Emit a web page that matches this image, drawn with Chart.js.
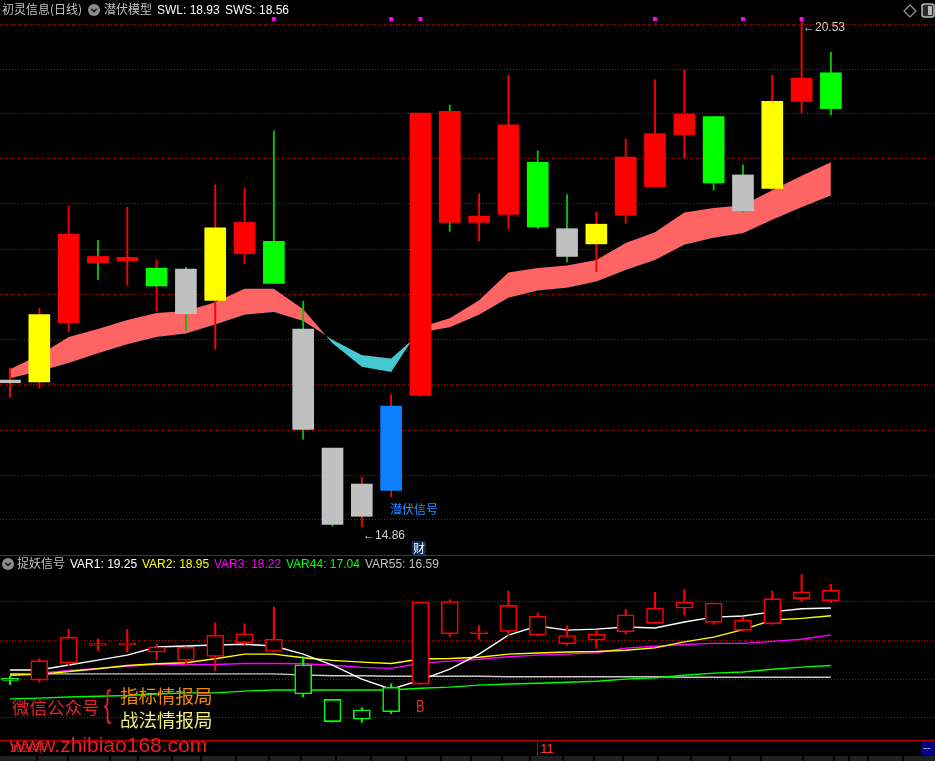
<!DOCTYPE html>
<html lang="zh-CN">
<head>
<meta charset="utf-8">
<title>潜伏模型</title>
<script src="https://cdn.jsdelivr.net/npm/chart.js@4.4.1/dist/chart.umd.min.js"></script>
<style>
  html, body { margin: 0; padding: 0; background: #000; }
  body { position: relative; width: 935px; height: 761px; overflow: hidden;
         font-family: "Liberation Sans", "Noto Sans CJK SC", sans-serif; }
  canvas { position: absolute; left: 0; }
  #cTop { top: 0; }
  #cBot { top: 556px; }
  .txt { position: absolute; white-space: nowrap; font-size: 12px; line-height: 14px; }
  .cjk { font-family: "Noto Sans CJK SC", sans-serif; }
  .hline { position: absolute; left: 0; width: 935px; height: 1px; background: #c00000; }
  .ico { position: absolute; }
  #strip { position: absolute; left: 0; top: 756px; width: 935px; height: 5px; background: #202020; }
  .sep { position: absolute; top: 0; width: 2px; height: 5px; background: #000; }
</style>
</head>
<body>
<canvas id="cTop" width="935" height="555"></canvas>
<canvas id="cBot" width="935" height="184"></canvas>
<div class="hline" style="top:555px"></div>
<div class="hline" style="top:740px"></div>

<!-- 主图标题 -->
<span class="txt cjk" style="left:2px;top:2px;color:#c0c0c0">初灵信息(日线)</span>
<svg class="ico" style="left:88px;top:4px" width="12" height="12"><circle cx="6" cy="6" r="6" fill="#8c8c8c"/><path d="M3.3 4.8 L6 7.6 L8.7 4.8" stroke="#1a1a1a" stroke-width="1.6" fill="none"/></svg>
<span class="txt cjk" style="left:104px;top:2px;color:#c0c0c0">潜伏模型</span>
<span class="txt" id="tSWL" style="left:157px;top:3px;color:#fff"></span>
<span class="txt" id="tSWS" style="left:225px;top:3px;color:#fff"></span>
<svg class="ico" style="left:903px;top:4px" width="14" height="14"><path d="M7 1 L13 7 L7 13 L1 7Z" stroke="#9a9a9a" stroke-width="1.2" fill="none"/></svg>
<svg class="ico" style="left:921px;top:3px" width="14" height="15"><rect x="1" y="1" width="12" height="13" rx="2.5" stroke="#b8b8b8" stroke-width="1.5" fill="#2a2a2a"/><rect x="7" y="3" width="4" height="9" fill="#b8b8b8"/></svg>

<!-- 副图标题 -->
<svg class="ico" style="left:2px;top:558px" width="12" height="12"><circle cx="6" cy="6" r="6" fill="#8c8c8c"/><path d="M3.3 4.8 L6 7.6 L8.7 4.8" stroke="#1a1a1a" stroke-width="1.6" fill="none"/></svg>
<span class="txt cjk" style="left:17px;top:556px;color:#c0c0c0">捉妖信号</span>
<span class="txt" id="tV1" style="left:70px;top:557px;color:#ffffff"></span>
<span class="txt" id="tV2" style="left:142px;top:557px;color:#ffff00"></span>
<span class="txt" id="tV3" style="left:214px;top:557px;color:#ff00ff"></span>
<span class="txt" id="tV44" style="left:286px;top:557px;color:#00ff00"></span>
<span class="txt" id="tV55" style="left:365px;top:557px;color:#c0c0c0"></span>

<!-- 图上标注 -->
<span class="txt" id="lblHigh" style="color:#d0d0d0"></span>
<span class="txt" id="lblLow" style="color:#d0d0d0"></span>
<span class="txt cjk" id="lblSig" style="color:#2a8cff">潜伏信号</span>
<span class="txt cjk" id="lblCai" style="color:#fff;background:#0b2d5c;padding:0 1px;line-height:14px">财</span>
<span class="txt" id="lblB" style="color:#ff2020;font-size:17px;line-height:17px;transform:scaleX(0.75);transform-origin:left top">B</span>

<!-- 水印 -->
<span class="txt cjk" style="left:12px;top:696px;font-size:17.5px;line-height:22px;color:#e0242c">微信公众号</span>
<span class="txt" style="left:104px;top:684px;font-size:36px;line-height:40px;color:#e0242c;transform:scaleX(0.6);transform-origin:left top">{</span>
<span class="txt cjk" style="left:120px;top:683px;font-size:18.5px;line-height:24px;color:#f08a00">指标情报局</span>
<span class="txt cjk" style="left:120px;top:707px;font-size:18.5px;line-height:24px;color:#eeee80">战法情报局</span>
<span class="txt cjk" style="left:10px;top:740px;font-size:11px;line-height:14px;color:#e02020">2026年</span>
<span class="txt" style="left:10px;top:733px;font-size:21px;line-height:24px;color:#ee1c24">www.zhibiao168.com</span>

<!-- 时间轴 -->
<div style="position:absolute;left:537px;top:741px;width:1px;height:15px;background:#c00000"></div>
<span class="txt" style="left:540px;top:741px;font-size:13px;line-height:15px;color:#ff3838">11</span>
<div style="position:absolute;left:921px;top:741px;width:14px;height:14px;background:#00008c"></div>
<span class="txt" style="left:923px;top:740px;font-size:11px;color:#d0d0d0">--</span>
<div id="strip">
  <div class="sep" style="left:36px"></div><div class="sep" style="left:67px"></div>
  <div class="sep" style="left:109px"></div><div class="sep" style="left:137px"></div>
  <div class="sep" style="left:171px"></div><div class="sep" style="left:200px"></div>
  <div class="sep" style="left:235px"></div><div class="sep" style="left:268px"></div>
  <div class="sep" style="left:300px"></div><div class="sep" style="left:335px"></div>
  <div class="sep" style="left:370px"></div><div class="sep" style="left:405px"></div>
  <div class="sep" style="left:440px"></div><div class="sep" style="left:470px"></div>
  <div class="sep" style="left:501px"></div><div class="sep" style="left:529px"></div>
  <div class="sep" style="left:562px"></div><div class="sep" style="left:593px"></div>
  <div class="sep" style="left:622px"></div><div class="sep" style="left:657px"></div>
  <div class="sep" style="left:690px"></div><div class="sep" style="left:729px"></div>
  <div class="sep" style="left:760px"></div><div class="sep" style="left:802px"></div>
  <div class="sep" style="left:833px"></div><div class="sep" style="left:848px"></div>
  <div class="sep" style="left:867px"></div><div class="sep" style="left:902px"></div>
</div>

<script>
// K线序号
const dayIdx = [0,1,2,3,4,5,6,7,8,9,10,11,12,13,14,15,16,17,18,19,20,21,22,23,24,25,26,27,28];

// 价格
const openP  = [16.50,16.48,17.14,17.81,17.83,17.75,17.24,17.39,17.91,18.05,17.07,15.74,14.98,15.27,16.33,18.26,18.26,18.35,18.93,18.19,18.02,18.34,18.66,19.24,19.44,18.39,18.64,19.61,19.93];
const highP  = [16.63,17.30,18.44,18.06,18.43,17.84,17.76,18.68,18.64,19.28,17.38,15.74,15.42,16.34,19.48,19.57,18.58,19.90,19.06,18.57,18.38,19.19,19.85,19.96,19.44,18.90,19.90,20.53,20.16];
const lowP   = [16.31,16.41,17.04,17.62,17.56,17.27,17.05,16.85,17.80,17.58,15.84,14.87,14.86,15.20,16.32,18.16,18.05,18.19,18.19,17.82,17.71,18.25,18.66,18.98,18.62,18.37,18.62,19.48,19.46];
const closeP = [16.47,17.23,18.13,17.88,17.87,17.55,17.74,18.20,18.26,17.58,15.95,14.89,15.34,16.21,19.48,19.50,18.33,19.35,18.21,17.88,18.24,18.99,19.25,19.47,18.70,18.79,19.61,19.87,19.53];

// 潜伏模型 带状线
const swl = [16.62,16.78,16.98,17.07,17.17,17.25,17.27,17.37,17.52,17.52,17.29,16.91,16.65,16.59,17.09,17.19,17.39,17.70,17.75,17.78,17.84,18.03,18.15,18.37,18.42,18.45,18.62,18.78,18.93];
const sws = [16.52,16.60,16.69,16.80,16.90,16.98,17.02,17.12,17.23,17.26,17.16,16.95,16.78,16.74,17.03,17.09,17.23,17.42,17.50,17.53,17.60,17.73,17.84,18.01,18.09,18.14,18.29,18.43,18.56];

// 捉妖信号
const var1  = [16.87,16.87,17.06,17.25,17.44,17.75,17.79,17.83,17.86,17.79,17.48,17.06,16.52,16.13,16.48,16.90,17.48,18.21,18.56,18.40,18.44,18.52,18.48,18.71,18.90,18.94,19.10,19.22,19.25];
const var2  = [16.68,16.70,16.81,16.92,17.04,17.11,17.15,17.30,17.48,17.48,17.34,17.24,17.17,17.12,17.29,17.31,17.36,17.48,17.52,17.56,17.58,17.63,17.72,17.95,18.13,18.42,18.79,18.85,18.95];
const var3  = [16.66,16.75,16.85,16.93,17.01,17.08,17.08,17.08,17.12,17.12,17.11,17.05,16.97,16.93,17.13,17.21,17.28,17.38,17.44,17.48,17.53,17.71,17.78,17.85,17.89,17.89,17.97,18.05,18.22];
const var44 = [15.76,15.79,15.83,15.86,15.89,15.95,15.99,15.99,16.06,16.10,16.10,16.10,16.10,16.10,16.17,16.21,16.29,16.33,16.36,16.40,16.44,16.52,16.57,16.67,16.75,16.79,16.90,16.98,17.04];
const var55 = [16.72,16.72,16.72,16.72,16.72,16.72,16.72,16.72,16.72,16.72,16.68,16.65,16.65,16.63,16.63,16.63,16.63,16.61,16.61,16.61,16.61,16.61,16.61,16.59,16.59,16.59,16.59,16.59,16.59];

// 顶部信号点
const signalIdx = [9, 13, 14, 22, 25, 27];
const signalLevel = 20.53;
const latentIdx = 13;   // 潜伏信号
const buyIdx = 14;      // B / 财

// 网格刻度
const gridTop = [20.47,19.97,19.47,18.97,18.47,17.96,17.46,16.95,16.45,15.94,15.44,14.94];
const gridBot = [19.48,18.02,16.52,15.03];

// 颜色
const R = '#ff0000', G = '#00ff00', Y = '#ffff00', S = '#c0c0c0', B = '#0a80ff', WG = '#00c800';
const bodyColor = [S,Y,R,R,R,G,S,Y,R,G,S,S,S,B,R,R,R,R,G,S,Y,R,R,R,G,S,Y,R,G];
const wickColor = [R,R,R,WG,R,R,WG,R,R,WG,WG,WG,R,R,R,WG,R,R,WG,WG,R,R,R,R,WG,WG,R,R,WG];
const botColor  = [G,R,R,R,R,R,R,R,R,R,G,G,G,G,R,R,R,R,R,R,R,R,R,R,R,R,R,R,R];

Chart.defaults.font.family = '"Liberation Sans", "Noto Sans CJK SC", sans-serif';

function xScale() {
  return { type: 'linear', min: -0.341, max: 31.55, display: false, offset: false };
}
function yScale(min, max, grid) {
  return {
    type: 'linear', min: min, max: max, position: 'left', offset: false,
    afterBuildTicks: s => { s.ticks = grid.map(v => ({ value: v })); },
    afterFit: s => { s.width = 0; },
    ticks: { display: false },
    grid: { color: '#d00000', drawTicks: false, lineWidth: 1 },
    border: { display: false, dash: [1, 2] }
  };
}
const baseOpts = {
  responsive: false, animation: false, events: [],
  layout: { padding: 0, autoPadding: false },
  plugins: { legend: { display: false }, tooltip: { enabled: false } }
};

const topChart = new Chart(document.getElementById('cTop'), {
  type: 'bar',
  data: {
    datasets: [
      { type: 'bar', label: 'body', data: dayIdx.map(i => ({ x: i, y: [openP[i], closeP[i]] })),
        backgroundColor: bodyColor, borderWidth: 0, barThickness: 21, grouped: false, minBarLength: 2, order: 0 },
      { type: 'bar', label: 'wick', data: dayIdx.map(i => ({ x: i, y: [lowP[i], highP[i]] })),
        backgroundColor: wickColor, borderWidth: 0, barThickness: 1.2, grouped: false, order: 1 },
      { type: 'line', label: 'SWL', data: dayIdx.map(i => ({ x: i, y: swl[i] })),
        borderColor: 'rgba(0,0,0,0)', borderWidth: 0, pointRadius: 0, tension: 0,
        fill: { target: '+1', above: '#ff6464', below: '#44c8d2' }, order: 2 },
      { type: 'line', label: 'SWS', data: dayIdx.map(i => ({ x: i, y: sws[i] })),
        borderColor: 'rgba(0,0,0,0)', borderWidth: 0, pointRadius: 0, tension: 0, fill: false, order: 2 },
      { type: 'scatter', label: 'signal', data: signalIdx.map(i => ({ x: i, y: signalLevel })),
        pointStyle: 'rect', pointRadius: 2.8, backgroundColor: '#ff00ff', borderWidth: 0, order: -1 }
    ]
  },
  options: Object.assign({}, baseOpts, {
    scales: { x: xScale(), y: yScale(14.548, 20.742, gridTop) }
  })
});

function lineSet(label, arr, color) {
  return { type: 'line', label: label, data: dayIdx.map(i => ({ x: i, y: arr[i] })),
    borderColor: color, borderWidth: 1.4, pointRadius: 0, tension: 0, fill: false, order: 2 };
}

const botChart = new Chart(document.getElementById('cBot'), {
  type: 'bar',
  data: {
    datasets: [
      { type: 'bar', label: 'body', data: dayIdx.map(i => ({ x: i, y: [openP[i], closeP[i]] })),
        backgroundColor: '#000', borderColor: botColor, borderWidth: 1.6, borderSkipped: false,
        barThickness: 17, grouped: false, minBarLength: 2, order: 0 },
      { type: 'bar', label: 'wick', data: dayIdx.map(i => ({ x: i, y: [lowP[i], highP[i]] })),
        backgroundColor: botColor, borderWidth: 0, barThickness: 1.4, grouped: false, order: 1 },
      lineSet('VAR1', var1, '#ffffff'),
      lineSet('VAR2', var2, '#ffff00'),
      lineSet('VAR3', var3, '#ff00ff'),
      lineSet('VAR44', var44, '#00ff00'),
      lineSet('VAR55', var55, '#c8c8c8')
    ]
  },
  options: Object.assign({}, baseOpts, {
    scales: { x: xScale(), y: yScale(14.182, 21.246, gridBot) }
  })
});

// 标题数值
const last = a => a[a.length - 1].toFixed(2);
document.getElementById('tSWL').textContent = 'SWL: ' + last(swl);
document.getElementById('tSWS').textContent = 'SWS: ' + last(sws);
document.getElementById('tV1').textContent = 'VAR1: ' + last(var1);
document.getElementById('tV2').textContent = 'VAR2: ' + last(var2);
document.getElementById('tV3').textContent = 'VAR3: ' + last(var3);
document.getElementById('tV44').textContent = 'VAR44: ' + last(var44);
document.getElementById('tV55').textContent = 'VAR55: ' + last(var55);

// 标注定位
const xt = topChart.scales.x, yt = topChart.scales.y;
const xb = botChart.scales.x, yb = botChart.scales.y;
const botTop = 556;
function place(id, left, top) {
  const el = document.getElementById(id);
  el.style.left = Math.round(left) + 'px';
  el.style.top = Math.round(top) + 'px';
}
const hi = highP.indexOf(Math.max(...highP));
const lo = lowP.indexOf(Math.min(...lowP));
document.getElementById('lblHigh').textContent = '\u2190' + highP[hi].toFixed(2);
document.getElementById('lblLow').textContent = '\u2190' + lowP[lo].toFixed(2);
place('lblHigh', xt.getPixelForValue(hi) + 1, yt.getPixelForValue(highP[hi]) + 1);
place('lblLow', xt.getPixelForValue(lo) + 1, yt.getPixelForValue(lowP[lo]) + 1);
place('lblSig', xt.getPixelForValue(latentIdx) - 1, yt.getPixelForValue(lowP[latentIdx]) + 5);
place('lblCai', xt.getPixelForValue(buyIdx) - 8, topChart.chartArea.bottom - 14);
place('lblB', xb.getPixelForValue(buyIdx) - 4, botTop + yb.getPixelForValue(lowP[buyIdx]) + 14);
</script>
</body>
</html>
